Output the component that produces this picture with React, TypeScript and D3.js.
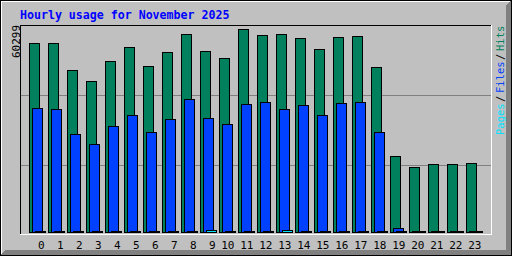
import React from "react";
import * as d3 from "d3";

const title = "Hourly usage for November 2025";
const hours = ["0","1","2","3","4","5","6","7","8","9","10","11","12","13","14","15","16","17","18","19","20","21","22","23"];
const hits = [56052,56052,48033,44765,50705,54864,49220,53379,58726,53676,51597,60299,58428,58726,57537,54270,57834,58131,48923,22486,19219,20110,20110,20407];
const files = [36744,36447,29110,26140,31398,34665,29704,33477,39418,33774,31993,37933,38527,36447,37636,34665,38230,38527,29704,1188,300,300,300,300];
const pages = [300,300,300,300,300,300,300,300,300,600,300,300,300,600,300,300,300,300,300,300,300,300,300,300];
const maxLabel = "60299";
const legendLabels = ["Hits", "/", "Files", "/", "Pages"];

const GREY = "#c0c0c0";
const DKGREY = "#808080";
const HITC = "#00805c";
const FILEC = "#0040ff";
const PAGEC = "#00e0ff";
const MONO = "'DejaVu Sans Mono', monospace";

export default function App() {
  const W = 512, H = 256;
  const x = d3.scaleBand<string>().domain(hours).range([29, 29 + 19 * 24]).padding(0);
  const maxV = d3.max(hits) as number;
  const y = d3.scaleLinear().domain([0, maxV]).range([232, 29]);

  const series = [
    { data: hits, color: HITC, off: 0 },
    { data: files, color: FILEC, off: 3 },
    { data: pages, color: PAGEC, off: 6 },
  ];

  const shadow: JSX.Element[] = [];
  for (let i = 1; i <= 5; i++) {
    shadow.push(<line key={"r" + i} x1={W - 1 - i + 0.5} y1={i} x2={W - 1 - i + 0.5} y2={H - i} stroke={DKGREY} />);
    shadow.push(<line key={"b" + i} x1={i} y1={H - 1 - i + 0.5} x2={W - i} y2={H - 1 - i + 0.5} stroke={DKGREY} />);
  }

  // legend positions (reading upward)
  const legendColors = [HITC, "#000", FILEC, "#000", PAGEC];
  let cur = 27;
  const legend = legendLabels.map((t, i) => {
    const len = t.length * 6;
    const start = cur + len;
    cur = start + 3;
    return (
      <text key={i} transform={`translate(504,${start}) rotate(-90)`} fontFamily={MONO} fontSize={10.5} fill={legendColors[i]}>
        {t}
      </text>
    );
  });

  return (
    <svg width={W} height={H} style={{ position: "fixed", left: 0, top: 0 }} shapeRendering="crispEdges">
      <rect x={0} y={0} width={W} height={H} fill={GREY} />
      {shadow}
      <line x1={1} y1={1.5} x2={W - 2} y2={1.5} stroke="#fff" />
      <line x1={1.5} y1={1} x2={1.5} y2={H - 2} stroke="#fff" />
      <rect x={0.5} y={0.5} width={W - 1} height={H - 1} fill="none" stroke="#000" />

      <text x={20} y={19} fontFamily={MONO} fontWeight="bold" fontSize={11.6} fill="#0000ff">{title}</text>

      {/* plot frame */}
      <line x1={20} y1={25.5} x2={492} y2={25.5} stroke="#000" />
      <line x1={20.5} y1={25} x2={20.5} y2={235} stroke="#000" />
      <line x1={20} y1={234.5} x2={492} y2={234.5} stroke="#fff" />
      <line x1={491.5} y1={25} x2={491.5} y2={235} stroke="#fff" />

      {/* grid */}
      {[95, 165].map((g) => (
        <line key={g} x1={21} y1={g + 0.5} x2={491} y2={g + 0.5} stroke={DKGREY} />
      ))}

      {/* bars */}
      {hours.map((h, i) => (
        <g key={h}>
          {series.map((s, k) => {
            const v = s.data[i];
            if (v <= 0) return null;
            const x1 = (x(h) as number) + s.off;
            const y1 = Math.min(231, Math.round(y(v)));
            return (
              <g key={k}>
                <rect x={x1} y={y1} width={11} height={233 - y1} fill={s.color} />
                <rect x={x1 + 0.5} y={y1 + 0.5} width={10} height={232 - y1} fill="none" stroke="#000" />
              </g>
            );
          })}
        </g>
      ))}

      {/* x labels */}
      {hours.map((h) => (
        <text key={h} x={(x(h) as number) + 15.5} y={249} textAnchor="end" fontFamily={MONO} fontSize={11} fill="#000" shapeRendering="auto">
          {h}
        </text>
      ))}

      <text transform="translate(19.5,58) rotate(-90)" fontFamily={MONO} fontSize={11} fill="#000">{maxLabel}</text>
      {legend}
    </svg>
  );
}
